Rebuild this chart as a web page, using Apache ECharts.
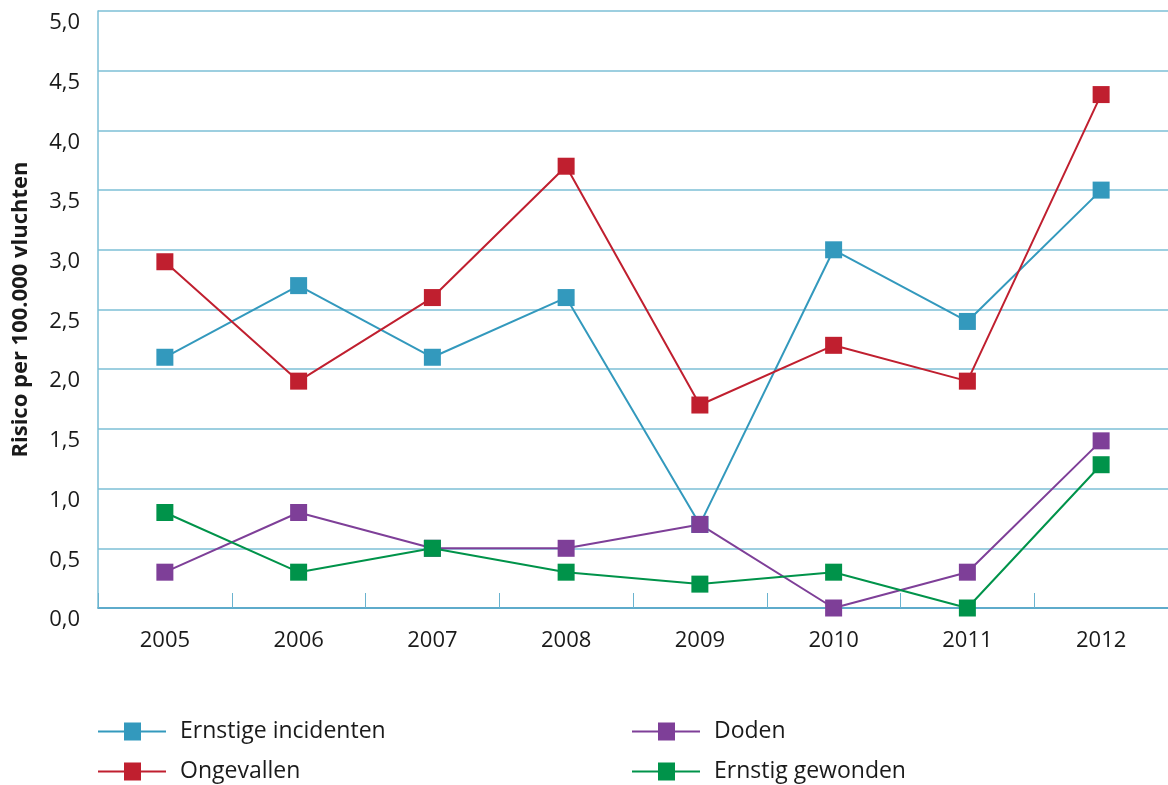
<!DOCTYPE html>
<html>
<head>
<meta charset="utf-8">
<script src="https://cdn.jsdelivr.net/npm/echarts@6/dist/echarts.min.js"></script>
<style>
html, body { margin: 0; padding: 0; background: #fff; }
#chart { width: 1168px; height: 785px; }
</style>
</head>
<body>
<div id="chart"></div>
<script>
const years = ['2005', '2006', '2007', '2008', '2009', '2010', '2011', '2012'];
const ernstigeIncidenten = [2.1, 2.7, 2.1, 2.6, 0.7, 3.0, 2.4, 3.5];
const ongevallen = [2.9, 1.9, 2.6, 3.7, 1.7, 2.2, 1.9, 4.3];
const doden = [0.3, 0.8, 0.5, 0.5, 0.7, 0.0, 0.3, 1.4];
const ernstigGewonden = [0.8, 0.3, 0.5, 0.3, 0.2, 0.3, 0.0, 1.2];

const FONT = 'Open Sans';
const chart = echarts.init(document.getElementById('chart'));

function line(name, data, color) {
  return {
    name, type: 'line', data,
    symbol: 'rect', symbolSize: 17,
    lineStyle: { color, width: 2 },
    itemStyle: { color },
    emphasis: { disabled: true },
    animation: false
  };
}

// one legend block per series, laid out in two columns of two rows
function legendAt(name, left, top) {
  return {
    data: [name], left, top, padding: 0,
    icon: 'path://M0,8 L26,8 L26,0 L43,0 L43,8 L68,8 L68,10 L43,10 L43,18 L26,18 L26,10 L0,10 Z',
    itemWidth: 68, itemHeight: 18,
    textStyle: { fontFamily: FONT, fontSize: 23, color: '#1a1a1a', padding: [0, 0, 0, 9] },
    selectedMode: false
  };
}

chart.setOption({
  backgroundColor: '#fff',
  grid: { left: 98, right: 0, top: 11, bottom: 177 },
  legend: [
    legendAt('Ernstige incidenten', 98, 720),
    legendAt('Ongevallen', 98, 760),
    legendAt('Doden', 632, 720),
    legendAt('Ernstig gewonden', 632, 760)
  ],
  xAxis: {
    type: 'category', data: years, boundaryGap: true,
    axisLine: { lineStyle: { color: '#4aa0c4', width: 1.5 } },
    axisTick: { show: true, inside: true, length: 15, lineStyle: { color: '#6ab3cf', width: 1 } },
    axisLabel: { fontFamily: FONT, fontSize: 22, color: '#1a1a1a', margin: 22 }
  },
  yAxis: {
    type: 'value', min: 0, max: 5, interval: 0.5,
    name: 'Risico per 100.000 vluchten', nameLocation: 'middle', nameGap: 66,
    nameTextStyle: { fontFamily: FONT, fontSize: 22, fontWeight: 'bold', color: '#1a1a1a' },
    axisLine: { show: true, lineStyle: { color: '#7cbfd6', width: 1.5 } },
    axisTick: { show: false },
    splitLine: { lineStyle: { color: '#7cbfd6', width: 1.5 } },
    axisLabel: {
      fontFamily: FONT, fontSize: 22, color: '#1a1a1a', margin: 18,
      verticalAlign: 'top', lineHeight: 24,
      formatter: v => v.toFixed(1).replace('.', ',')
    }
  },
  series: [
    line('Ernstige incidenten', ernstigeIncidenten, '#3399bd'),
    line('Ongevallen', ongevallen, '#c01f2f'),
    line('Doden', doden, '#7e3f98'),
    line('Ernstig gewonden', ernstigGewonden, '#00934a')
  ]
});
</script>
</body>
</html>
